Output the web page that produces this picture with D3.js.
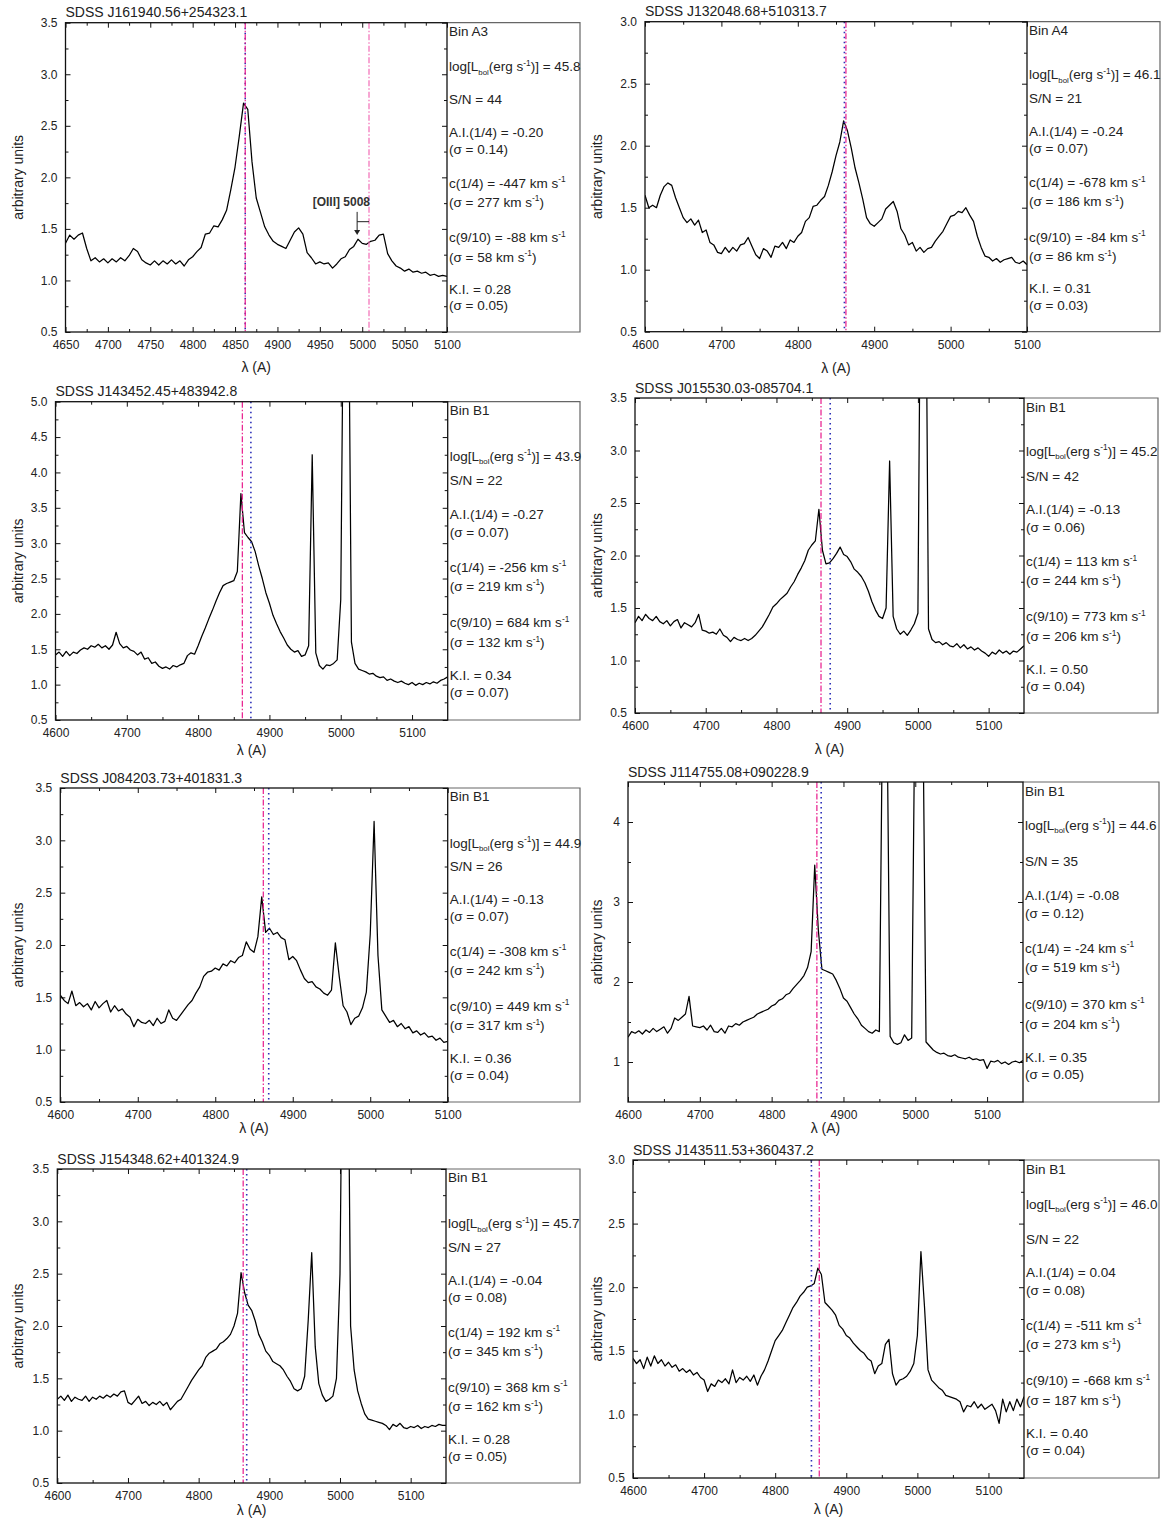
<!DOCTYPE html>
<html>
<head>
<meta charset="utf-8">
<script src="https://cdn.jsdelivr.net/npm/d3@7"></script>
<style>
  body { margin: 0; background: #fff; }
  text { font-family: "Liberation Sans", Arial, sans-serif; }
</style>
</head>
<body>
<div id="chart"></div>
<script>
// ---- data ----
const titles = [
  'SDSS J161940.56+254323.1', 'SDSS J132048.68+510313.7',
  'SDSS J143452.45+483942.8', 'SDSS J015530.03-085704.1',
  'SDSS J084203.73+401831.3', 'SDSS J114755.08+090228.9',
  'SDSS J154348.62+401324.9', 'SDSS J143511.53+360437.2',
];
const bins = ['A3', 'A4', 'B1', 'B1', 'B1', 'B1', 'B1', 'B1'];
const logLbol = ['45.8', '46.1', '43.9', '45.2', '44.9', '44.6', '45.7', '46.0'];
const snr = [44, 21, 22, 42, 26, 35, 27, 22];
const asymIdx = ['-0.20', '-0.24', '-0.27', '-0.13', '-0.13', '-0.08', '-0.04', '0.04'];
const asymErr = ['0.14', '0.07', '0.07', '0.06', '0.07', '0.12', '0.08', '0.08'];
const cQuarter = [-447, -678, -256, 113, -308, -24, 192, -511];
const cQuarterErr = [277, 186, 219, 244, 242, 519, 345, 273];
const cNine = [-88, -84, 684, 773, 449, 370, 368, -668];
const cNineErr = [58, 86, 132, 206, 317, 204, 162, 187];
const kurt = ['0.28', '0.31', '0.34', '0.50', '0.36', '0.35', '0.28', '0.40'];
const kurtErr = ['0.05', '0.03', '0.07', '0.04', '0.04', '0.05', '0.05', '0.04'];

// wavelength of the first pixel, spectra sampled every 5 A
const specStart = [4650, 4600, 4600, 4600, 4600, 4600, 4600, 4600];
const xDomains = [[4650, 5100], [4600, 5100], [4600, 5150], [4600, 5150],
  [4600, 5100], [4600, 5150], [4600, 5150], [4600, 5150]];
const yDomains = [[0.5, 3.5], [0.5, 3.0], [0.5, 5.0], [0.5, 3.5],
  [0.5, 3.5], [0.5, 4.5], [0.5, 3.5], [0.5, 3.0]];

// vertical markers (A)
const hbetaLine = [4862, 4863, 4862, 4863, 4862, 4863, 4863, 4862]; // dash-dot magenta
const centroidLine = [4862, 4861, 4874, 4876, 4869, 4869, 4868, 4851]; // dotted blue
const oiiiLine = 5008; // panel 1 only

// tick labels
const xTicks50 = [4650, 4700, 4750, 4800, 4850, 4900, 4950, 5000, 5050, 5100];
const xTicks100 = [4600, 4700, 4800, 4900, 5000, 5100];

const fluxP1 = [
  1.36, 1.44, 1.40, 1.44, 1.46, 1.31, 1.19, 1.22, 1.18, 1.21,
  1.17, 1.21, 1.18, 1.22, 1.19, 1.24, 1.31, 1.28, 1.20, 1.17,
  1.15, 1.19, 1.15, 1.19, 1.16, 1.20, 1.16, 1.19, 1.14, 1.20,
  1.23, 1.28, 1.32, 1.45, 1.46, 1.53, 1.52, 1.59, 1.68, 1.88,
  2.10, 2.40, 2.72, 2.66, 2.15, 1.80, 1.66, 1.52, 1.44, 1.38,
  1.35, 1.33, 1.31, 1.39, 1.47, 1.51, 1.45, 1.27, 1.22, 1.16,
  1.18, 1.16, 1.17, 1.12, 1.16, 1.21, 1.23, 1.30, 1.33, 1.40,
  1.36, 1.35, 1.38, 1.39, 1.44, 1.45, 1.26, 1.19, 1.14, 1.12,
  1.09, 1.11, 1.08, 1.09, 1.07, 1.08, 1.05, 1.06, 1.04, 1.05, 1.04,
];
const fluxP2 = [
  1.60, 1.50, 1.52, 1.50, 1.60, 1.67, 1.70, 1.68, 1.58, 1.50,
  1.42, 1.38, 1.41, 1.36, 1.40, 1.30, 1.32, 1.22, 1.20, 1.14,
  1.13, 1.18, 1.14, 1.18, 1.15, 1.20, 1.21, 1.26, 1.19, 1.12,
  1.09, 1.17, 1.15, 1.10, 1.19, 1.18, 1.22, 1.17, 1.24, 1.22,
  1.27, 1.30, 1.39, 1.42, 1.51, 1.52, 1.56, 1.59, 1.68, 1.79,
  1.92, 2.03, 2.20, 2.12, 1.98, 1.82, 1.70, 1.57, 1.42, 1.37,
  1.35, 1.38, 1.41, 1.49, 1.52, 1.55, 1.47, 1.33, 1.28, 1.20,
  1.22, 1.15, 1.18, 1.14, 1.17, 1.18, 1.23, 1.27, 1.31, 1.37,
  1.43, 1.44, 1.47, 1.46, 1.50, 1.44, 1.39, 1.27, 1.18, 1.11,
  1.10, 1.07, 1.09, 1.06, 1.08, 1.09, 1.10, 1.06, 1.05, 1.07, 1.04,
];
const fluxP3 = [
  1.42, 1.46, 1.40, 1.47, 1.41, 1.46, 1.44, 1.49, 1.52, 1.50,
  1.55, 1.53, 1.57, 1.52, 1.55, 1.50, 1.56, 1.74, 1.58, 1.52,
  1.54, 1.49, 1.47, 1.42, 1.46, 1.36, 1.38, 1.30, 1.32, 1.26,
  1.23, 1.25, 1.22, 1.27, 1.25, 1.28, 1.30, 1.41, 1.45, 1.43,
  1.55, 1.68, 1.80, 1.93, 2.05, 2.18, 2.30, 2.40, 2.43, 2.45,
  2.47, 2.60, 3.70, 3.15, 3.08, 3.02, 2.88, 2.68, 2.50, 2.30,
  2.15, 1.98, 1.86, 1.75, 1.66, 1.56, 1.50, 1.46, 1.48, 1.40,
  1.42, 1.55, 4.25, 1.45, 1.27, 1.22, 1.28, 1.27, 1.30, 1.35,
  2.20, 8.00, 8.00, 1.60, 1.30, 1.22, 1.20, 1.18, 1.15, 1.16,
  1.12, 1.10, 1.11, 1.06, 1.08, 1.05, 1.03, 1.05, 1.02, 1.00,
  1.03, 0.99, 1.02, 1.00, 1.03, 1.01, 1.04, 1.02, 1.06, 1.08, 1.11,
];
const fluxP4 = [
  1.36, 1.42, 1.38, 1.44, 1.40, 1.38, 1.42, 1.37, 1.35, 1.38,
  1.33, 1.37, 1.39, 1.31, 1.36, 1.34, 1.32, 1.36, 1.44, 1.29,
  1.28, 1.26, 1.27, 1.25, 1.30, 1.24, 1.22, 1.18, 1.22, 1.20,
  1.19, 1.21, 1.19, 1.21, 1.24, 1.28, 1.32, 1.38, 1.44, 1.51,
  1.54, 1.58, 1.61, 1.64, 1.70, 1.75, 1.82, 1.88, 1.95, 2.05,
  2.10, 2.14, 2.44, 2.05, 1.92, 1.93, 1.97, 2.02, 2.08, 2.01,
  1.99, 1.94, 1.87, 1.84, 1.80, 1.74, 1.66, 1.56, 1.48, 1.42,
  1.40, 1.50, 2.90, 1.42, 1.30, 1.25, 1.28, 1.24, 1.29, 1.35,
  1.45, 6.00, 6.00, 1.30, 1.20, 1.17, 1.18, 1.15, 1.17, 1.14,
  1.13, 1.16, 1.12, 1.15, 1.11, 1.13, 1.10, 1.12, 1.09, 1.07,
  1.04, 1.08, 1.06, 1.10, 1.07, 1.09, 1.06, 1.09, 1.08, 1.11, 1.14,
];
const fluxP5 = [
  1.52, 1.47, 1.44, 1.56, 1.42, 1.45, 1.41, 1.44, 1.38, 1.46,
  1.40, 1.44, 1.47, 1.36, 1.42, 1.37, 1.39, 1.34, 1.31, 1.22,
  1.29, 1.26, 1.25, 1.28, 1.23, 1.30, 1.25, 1.27, 1.38, 1.30,
  1.28, 1.33, 1.38, 1.43, 1.47, 1.54, 1.60, 1.70, 1.74, 1.75,
  1.78, 1.76, 1.82, 1.80, 1.85, 1.83, 1.88, 1.90, 2.03, 1.96,
  1.93, 2.08, 2.46, 2.12, 2.16, 2.10, 2.12, 2.07, 2.05, 1.86,
  1.89, 1.85, 1.76, 1.68, 1.64, 1.65, 1.60, 1.58, 1.54, 1.52,
  1.57, 2.02, 1.70, 1.42, 1.36, 1.24, 1.30, 1.32, 1.40, 1.55,
  2.10, 3.18, 1.90, 1.38, 1.32, 1.26, 1.28, 1.22, 1.25, 1.20,
  1.22, 1.16, 1.18, 1.14, 1.16, 1.12, 1.13, 1.09, 1.11, 1.07, 1.08,
];
const fluxP6 = [
  1.31, 1.38, 1.36, 1.39, 1.35, 1.40, 1.37, 1.42, 1.38, 1.41,
  1.44, 1.36, 1.42, 1.55, 1.52, 1.56, 1.60, 1.82, 1.45, 1.44,
  1.43, 1.45, 1.40, 1.46, 1.38, 1.37, 1.42, 1.36, 1.45, 1.44,
  1.48, 1.46, 1.50, 1.52, 1.54, 1.56, 1.60, 1.62, 1.64, 1.66,
  1.70, 1.72, 1.77, 1.79, 1.84, 1.86, 1.92, 1.97, 2.02, 2.08,
  2.18, 2.38, 3.46, 2.65, 2.16, 2.14, 2.12, 2.10, 2.02, 1.92,
  1.80, 1.76, 1.68, 1.60, 1.54, 1.46, 1.42, 1.38, 1.36, 1.40,
  1.38, 6.00, 6.00, 1.32, 1.24, 1.22, 1.24, 1.34, 1.27, 1.30,
  6.00, 7.00, 6.00, 1.25, 1.20, 1.15, 1.12, 1.10, 1.11, 1.08,
  1.07, 1.09, 1.06, 1.05, 1.04, 1.06, 1.03, 1.04, 1.02, 1.03,
  0.92, 1.01, 1.00, 1.02, 0.98, 1.00, 0.97, 1.00, 1.01, 0.99, 1.02,
];
const fluxP7 = [
  1.30, 1.33, 1.29, 1.34, 1.28, 1.32, 1.30, 1.29, 1.33, 1.28,
  1.32, 1.30, 1.33, 1.31, 1.34, 1.32, 1.35, 1.33, 1.37, 1.38,
  1.27, 1.25, 1.29, 1.33, 1.26, 1.28, 1.24, 1.27, 1.25, 1.28,
  1.24, 1.27, 1.20, 1.24, 1.28, 1.30, 1.36, 1.42, 1.48, 1.53,
  1.58, 1.62, 1.70, 1.74, 1.76, 1.78, 1.83, 1.85, 1.88, 1.92,
  2.00, 2.12, 2.51, 2.32, 2.20, 2.15, 2.05, 1.92, 1.85, 1.76,
  1.72, 1.66, 1.64, 1.62, 1.58, 1.52, 1.47, 1.40, 1.38, 1.40,
  1.52, 2.05, 2.70, 1.80, 1.45, 1.34, 1.28, 1.30, 1.33, 1.50,
  2.50, 6.00, 6.00, 2.00, 1.58, 1.38, 1.26, 1.16, 1.11, 1.10,
  1.09, 1.08, 1.07, 1.05, 1.01, 1.06, 1.04, 1.07, 1.03, 1.02,
  1.04, 1.03, 1.05, 1.02, 1.04, 1.03, 1.05, 1.04, 1.06, 1.05, 1.05,
];
const fluxP8 = [
  1.44, 1.40, 1.43, 1.36, 1.45, 1.38, 1.46, 1.40, 1.43, 1.38,
  1.41, 1.37, 1.39, 1.34, 1.36, 1.33, 1.35, 1.31, 1.33, 1.29,
  1.27, 1.18, 1.24, 1.22, 1.27, 1.25, 1.28, 1.24, 1.35, 1.25,
  1.29, 1.27, 1.30, 1.26, 1.31, 1.23, 1.30, 1.35, 1.42, 1.50,
  1.58, 1.62, 1.66, 1.72, 1.78, 1.84, 1.88, 1.93, 1.96, 2.00,
  2.01, 2.03, 2.15, 2.10, 1.88, 1.85, 1.82, 1.78, 1.70, 1.67,
  1.62, 1.60, 1.56, 1.53, 1.50, 1.48, 1.44, 1.42, 1.32, 1.38,
  1.40, 1.55, 1.59, 1.32, 1.23, 1.27, 1.28, 1.30, 1.34, 1.40,
  1.62, 2.28, 1.85, 1.35, 1.27, 1.24, 1.21, 1.19, 1.15, 1.14,
  1.13, 1.12, 1.10, 1.02, 1.07, 1.06, 1.10, 1.05, 1.08, 1.04,
  1.06, 1.08, 1.03, 0.93, 1.12, 1.02, 1.10, 1.03, 1.12, 1.06, 1.14,
];
const fluxes = [fluxP1, fluxP2, fluxP3, fluxP4, fluxP5, fluxP6, fluxP7, fluxP8];
const STEP = 5;

// ---- layout (pixel boxes of each panel) ----
const layout = [
  { l: 65.5, r: 447, t: 22.7, b: 332, br: 580, xt: 35, lf: 0.14 },
  { l: 645, r: 1027, t: 21.7, b: 331.7, br: 1160, xt: 36, lf: 0.17 },
  { l: 55.5, r: 447.7, t: 401.7, b: 720, br: 580, xt: 30, lf: 0.17 },
  { l: 635, r: 1024, t: 398, b: 713, br: 1158, xt: 36, lf: 0.167 },
  { l: 60.3, r: 447.7, t: 788, b: 1102, br: 580, xt: 26, lf: 0.174 },
  { l: 628, r: 1023, t: 782, b: 1102, br: 1159, xt: 26, lf: 0.134 },
  { l: 57.3, r: 446, t: 1169, b: 1483, br: 580, xt: 27, lf: 0.173 },
  { l: 633, r: 1024, t: 1160, b: 1478, br: 1159, xt: 31, lf: 0.138 },
];
// vertical position of info lines, as fraction of the box height
const infoFrac = [0.027, null, 0.247, 0.353, 0.408, 0.518, 0.579, 0.693, 0.756, 0.86, 0.913];

const svg = d3.select('#chart').append('svg').attr('width', 1163).attr('height', 1522);

// renders "a_{sub}b^{sup}" style strings into tspans
function richText(sel, str, size) {
  const parts = str.split(/(_\{[^}]*\}|\^\{[^}]*\})/).filter((p) => p.length);
  let shift = 0;
  parts.forEach((p) => {
    let target = 0;
    let txt = p;
    let fs = size;
    if (p.startsWith('_{')) { target = 3.5; txt = p.slice(2, -1); fs = size * 0.58; }
    if (p.startsWith('^{')) { target = -5.5; txt = p.slice(2, -1); fs = size * 0.62; }
    sel.append('tspan').attr('dy', target - shift).attr('font-size', fs).text(txt);
    shift = target;
  });
}

function infoLines(i) {
  return [
    `Bin ${bins[i]}`,
    `log[L_{bol}(erg s^{-1})] = ${logLbol[i]}`,
    `S/N = ${snr[i]}`,
    `A.I.(1/4) = ${asymIdx[i]}`,
    `(σ = ${asymErr[i]})`,
    `c(1/4) = ${cQuarter[i]} km s^{-1}`,
    `(σ = ${cQuarterErr[i]} km s^{-1})`,
    `c(9/10) = ${cNine[i]} km s^{-1}`,
    `(σ = ${cNineErr[i]} km s^{-1})`,
    `K.I. = ${kurt[i]}`,
    `(σ = ${kurtErr[i]})`,
  ];
}

function styleAxis(g) {
  g.select('.domain').remove();
  g.selectAll('.tick line').attr('stroke', '#111').attr('stroke-width', 1);
  g.selectAll('.tick text').attr('font-size', 12).attr('fill', '#222')
    .attr('font-family', '"Liberation Sans", Arial, sans-serif');
}

fluxes.forEach((flux, i) => {
  const L = layout[i];
  const x = d3.scaleLinear().domain(xDomains[i]).range([L.l, L.r]);
  const y = d3.scaleLinear().domain(yDomains[i]).range([L.b, L.t]);
  const g = svg.append('g');

  const xMajor = i === 0 ? xTicks50 : xTicks100;
  const xMinorStep = i === 0 ? 25 : 50;
  const xMinor = d3.range(xDomains[i][0], xDomains[i][1] + 1, xMinorStep)
    .filter((v) => !xMajor.includes(v) && v < xDomains[i][1]);
  const yMajor = i === 5 ? [1, 2, 3, 4] : d3.range(0.5, yDomains[i][1] + 0.01, 0.5);
  const yMinorStep = i === 5 ? 0.5 : 0.25;
  const yMinor = d3.range(0.5, yDomains[i][1], yMinorStep)
    .filter((v) => !yMajor.some((m) => Math.abs(m - v) < 1e-6) && v > 0.5);
  const yFmt = i === 5 ? d3.format('d') : d3.format('.1f');

  // info box
  g.append('path')
    .attr('d', `M${L.r},${L.t}H${L.br}V${L.b}H${L.r}`)
    .attr('fill', 'none').attr('stroke', '#666').attr('stroke-width', 1.2);

  // axes (ticks inward on all four sides)
  g.append('g').attr('transform', `translate(0,${L.b})`)
    .call(d3.axisBottom(x).tickValues(xMajor).tickSizeInner(-5).tickSizeOuter(0)
      .tickPadding(8.5).tickFormat(d3.format('d')))
    .call(styleAxis);
  g.append('g').attr('transform', `translate(0,${L.b})`)
    .call(d3.axisBottom(x).tickValues(xMinor).tickSizeInner(-3).tickSizeOuter(0).tickFormat(''))
    .call(styleAxis);
  g.append('g').attr('transform', `translate(0,${L.t})`)
    .call(d3.axisTop(x).tickValues(xMajor).tickSizeInner(-5).tickSizeOuter(0).tickFormat(''))
    .call(styleAxis);
  g.append('g').attr('transform', `translate(0,${L.t})`)
    .call(d3.axisTop(x).tickValues(xMinor).tickSizeInner(-3).tickSizeOuter(0).tickFormat(''))
    .call(styleAxis);
  g.append('g').attr('transform', `translate(${L.l},0)`)
    .call(d3.axisLeft(y).tickValues(yMajor).tickSizeInner(-5).tickSizeOuter(0)
      .tickPadding(8).tickFormat(yFmt))
    .call(styleAxis);
  g.append('g').attr('transform', `translate(${L.l},0)`)
    .call(d3.axisLeft(y).tickValues(yMinor).tickSizeInner(-3).tickSizeOuter(0).tickFormat(''))
    .call(styleAxis);
  g.append('g').attr('transform', `translate(${L.r},0)`)
    .call(d3.axisRight(y).tickValues(yMajor).tickSizeInner(-5).tickSizeOuter(0).tickFormat(''))
    .call(styleAxis);
  g.append('g').attr('transform', `translate(${L.r},0)`)
    .call(d3.axisRight(y).tickValues(yMinor).tickSizeInner(-3).tickSizeOuter(0).tickFormat(''))
    .call(styleAxis);

  // clip
  const cid = `clip${i}`;
  svg.append('clipPath').attr('id', cid).append('rect')
    .attr('x', L.l).attr('y', L.t).attr('width', L.r - L.l).attr('height', L.b - L.t);
  const plot = g.append('g').attr('clip-path', `url(#${cid})`);

  // spectrum
  const line = d3.line()
    .x((d, k) => x(specStart[i] + k * STEP))
    .y((d) => y(d));
  plot.append('path').datum(flux)
    .attr('d', line)
    .attr('fill', 'none').attr('stroke', '#000').attr('stroke-width', 1.25)
    .attr('stroke-linejoin', 'round');

  // vertical reference lines
  plot.append('line')
    .attr('x1', x(centroidLine[i])).attr('x2', x(centroidLine[i]))
    .attr('y1', L.t).attr('y2', L.b)
    .attr('stroke', '#2b2fb8').attr('stroke-width', 1.6).attr('stroke-dasharray', '1.6,3.4');
  plot.append('line')
    .attr('x1', x(hbetaLine[i])).attr('x2', x(hbetaLine[i]))
    .attr('y1', L.t).attr('y2', L.b)
    .attr('stroke', '#e8198b').attr('stroke-width', 1.2).attr('stroke-dasharray', '6,2,1.5,2');
  if (i === 0) {
    plot.append('line')
      .attr('x1', x(oiiiLine)).attr('x2', x(oiiiLine))
      .attr('y1', L.t).attr('y2', L.b)
      .attr('stroke', '#f26bb5').attr('stroke-width', 1.2).attr('stroke-dasharray', '6,2,1.5,2');
    // [OIII] 5008 annotation
    const ax = x(4994);
    g.append('text').attr('x', x(oiiiLine) + 1).attr('y', y(1.72))
      .attr('text-anchor', 'end').attr('font-size', 12).attr('font-weight', 'bold')
      .attr('fill', '#333').text('[OIII] 5008');
    g.append('line').attr('x1', ax).attr('x2', ax).attr('y1', y(1.665)).attr('y2', y(1.48))
      .attr('stroke', '#222').attr('stroke-width', 1);
    g.append('path')
      .attr('d', `M${ax - 3},${y(1.49)}L${ax + 3},${y(1.49)}L${ax},${y(1.44)}Z`)
      .attr('fill', '#222');
    g.append('line').attr('x1', ax).attr('x2', x(oiiiLine)).attr('y1', y(1.57)).attr('y2', y(1.57))
      .attr('stroke', '#222').attr('stroke-width', 1);
  }

  // frame
  g.append('rect').attr('x', L.l).attr('y', L.t)
    .attr('width', L.r - L.l).attr('height', L.b - L.t)
    .attr('fill', 'none').attr('stroke', '#111').attr('stroke-width', 1.3);

  // titles
  g.append('text').attr('x', L.l).attr('y', L.t - 5.5)
    .attr('font-size', 14).attr('fill', '#222').text(titles[i]);
  g.append('text').attr('x', (L.l + L.r) / 2).attr('y', L.b + L.xt + 5)
    .attr('text-anchor', 'middle').attr('font-size', 14).attr('fill', '#222').text('λ (A)');
  const yx = i % 2 === 0 ? 18 : 597;
  g.append('text')
    .attr('transform', `translate(${yx + 5},${(L.t + L.b) / 2}) rotate(-90)`)
    .attr('text-anchor', 'middle').attr('font-size', 14).attr('fill', '#222')
    .text('arbitrary units');

  // info text
  const h = L.b - L.t;
  infoLines(i).forEach((str, k) => {
    const f = k === 1 ? L.lf : infoFrac[k];
    const t = g.append('text').attr('x', L.r + 2).attr('y', L.t + f * h + 5)
      .attr('font-size', 13.5).attr('fill', '#222');
    richText(t, str, 13.5);
  });
});
</script>
</body>
</html>
